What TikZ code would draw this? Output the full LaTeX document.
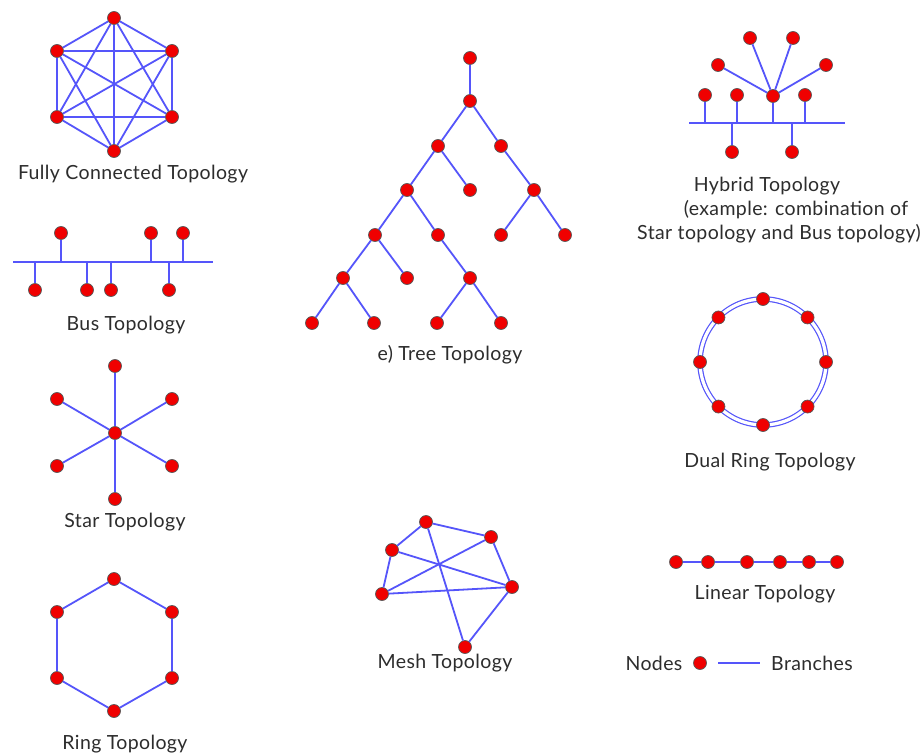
\documentclass[tikz,border=0pt]{standalone}
\usepackage{fontspec}
\setmainfont{Lato}[LetterSpace=2]
\usetikzlibrary{calc}
\definecolor{br}{RGB}{85,85,250}
\definecolor{nodered}{RGB}{240,0,0}
\definecolor{txt}{RGB}{45,45,45}
\begin{document}
\begin{tikzpicture}[x=1pt,y=-1pt,
  nd/.style={circle,fill=nodered,draw=black!65,line width=0.7pt,inner sep=0pt,minimum size=13pt},
  branch/.style={draw=br,line width=1.8pt},
  lbl/.style={text=txt,font=\fontsize{19.5}{22}\selectfont,inner sep=0pt,anchor=center}]
\useasboundingbox[fill=white] (0,0) rectangle (921,754);

% ---------- Fully connected ----------
\node[nd] (f1) at (114,18) {};
\node[nd] (f2) at (57,51) {};
\node[nd] (f3) at (172,51) {};
\node[nd] (f4) at (57,117) {};
\node[nd] (f5) at (172,117) {};
\node[nd] (f6) at (114,151) {};
\foreach \a/\b in {f1/f2,f1/f3,f1/f4,f1/f5,f1/f6,f2/f3,f2/f4,f2/f5,f2/f6,f3/f4,f3/f5,f3/f6,f4/f5,f4/f6,f5/f6}
  \draw[branch] (\a) -- (\b);
\node[lbl] (lf) at (133,174) {Fully Connected Topology};

% ---------- Bus ----------
\coordinate (busL) at (13,262);
\coordinate (busR) at (213,262);
\draw[branch] (busL) -- (busR);
\foreach \n/\x/\y in {b1/61/233,b2/151/233,b3/183/233,b4/35/290,b5/87/290,b6/111/290,b7/169/290}{
  \node[nd] (\n) at (\x,\y) {};
  \coordinate (\n s) at (\x,262);
  \draw[branch] (\n s) -- (\n);
}
\node[lbl] (lb) at (126,325) {Bus Topology};

% ---------- Star ----------
\node[nd] (s0) at (115,433) {};
\foreach \n/\x/\y in {s1/115/366,s2/115/499,s3/57/399,s4/172/399,s5/57/466,s6/172/466}{
  \node[nd] (\n) at (\x,\y) {};
  \draw[branch] (s0) -- (\n);
}
\node[lbl] (ls) at (125,522) {Star Topology};

% ---------- Ring ----------
\node[nd] (r1) at (114,579) {};
\node[nd] (r2) at (172,612) {};
\node[nd] (r3) at (172,678) {};
\node[nd] (r4) at (114,711) {};
\node[nd] (r5) at (57,678) {};
\node[nd] (r6) at (57,612) {};
\draw[branch] (r1) -- (r2) -- (r3) -- (r4) -- (r5) -- (r6) -- (r1);
\node[lbl] (lr) at (125,744) {Ring Topology};

% ---------- Tree ----------
\node[nd] (t0) at (470,58) {};
\node[nd] (t1) at (470,101) {};
\node[nd] (ta) at (438,146) {};
\node[nd] (tb) at (501,146) {};
\node[nd] (ta1) at (407,190) {};
\node[nd] (ta2) at (470,190) {};
\node[nd] (tb1) at (534,190) {};
\node[nd] (taa) at (375,235) {};
\node[nd] (tab) at (438,235) {};
\node[nd] (tba) at (501,235) {};
\node[nd] (tbb) at (565,235) {};
\node[nd] (taaa) at (343,278) {};
\node[nd] (taab) at (407,278) {};
\node[nd] (taba) at (470,278) {};
\node[nd] (l1) at (312,323) {};
\node[nd] (l2) at (374,323) {};
\node[nd] (l3) at (437,323) {};
\node[nd] (l4) at (501,323) {};
\foreach \a/\b in {t0/t1,t1/ta,t1/tb,ta/ta1,ta/ta2,tb/tb1,ta1/taa,ta1/tab,tb1/tba,tb1/tbb,taa/taaa,taa/taab,tab/taba,taaa/l1,taaa/l2,taba/l3,taba/l4}
  \draw[branch] (\a) -- (\b);
\node[lbl] (lt) at (450,355) {e) Tree Topology};

% ---------- Hybrid ----------
\coordinate (hbL) at (689,123);
\coordinate (hbR) at (845,123);
\draw[branch] (hbL) -- (hbR);
\node[nd] (hh) at (773,96) {};
\coordinate (hhs) at (773,123);
\draw[branch] (hhs) -- (hh);
\foreach \n/\x/\y in {h1/750/38,h2/793/38,h3/718/65,h4/826/65}{
  \node[nd] (\n) at (\x,\y) {};
  \draw[branch] (hh) -- (\n);
}
\foreach \n/\x/\y in {h5/705/95,h6/737/95,h7/805/95,h8/732/152,h9/792/152}{
  \node[nd] (\n) at (\x,\y) {};
  \coordinate (\n s) at (\x,123);
  \draw[branch] (\n s) -- (\n);
}
\node[lbl] (lh1) at (767,186) {Hybrid Topology};
\node[lbl] (lh2) at (796,210) {(example: combination of};
\node[lbl] (lh3) at (779,234) {Star topology and Bus topology)};

% ---------- Dual ring ----------
\coordinate (dc) at (763,362);
\draw[draw=br,line width=1.2pt,double=white,double distance=3.2pt] (dc) circle[radius=63];
\foreach \i in {0,...,7}{
  \node[nd] (d\i) at ($(dc)+(90-\i*45:63)$) {};
}
\node[lbl] (ld) at (770,462) {Dual Ring Topology};

% ---------- Mesh ----------
\node[nd] (m1) at (426,522) {};
\node[nd] (m2) at (491,537) {};
\node[nd] (m3) at (392,550) {};
\node[nd] (m4) at (382,594) {};
\node[nd] (m5) at (512,587) {};
\node[nd] (m6) at (465,647) {};
\foreach \a/\b in {m1/m2,m1/m3,m1/m6,m3/m4,m3/m5,m4/m2,m4/m5,m2/m5,m5/m6}
  \draw[branch] (\a) -- (\b);
\node[lbl] (lm) at (445,663) {Mesh Topology};

% ---------- Linear ----------
\node[nd] (n1) at (676,562) {};
\node[nd] (n2) at (708,562) {};
\node[nd] (n3) at (747,562) {};
\node[nd] (n4) at (780,562) {};
\node[nd] (n5) at (809,562) {};
\node[nd] (n6) at (837,562) {};
\draw[branch] (n1) -- (n2) -- (n3) -- (n4) -- (n5) -- (n6);
\node[lbl] (ll) at (765,594) {Linear Topology};

% ---------- Legend ----------
\node[lbl] (lgn) at (654,663) {Nodes};
\node[nd] (lgd) at (700,663) {};
\coordinate (lga) at (718,663);
\coordinate (lgb) at (760,663);
\draw[branch,line width=1.3pt] (lga) -- (lgb);
\node[lbl] (lgb2) at (812,663) {Branches};
\end{tikzpicture}
\end{document}
